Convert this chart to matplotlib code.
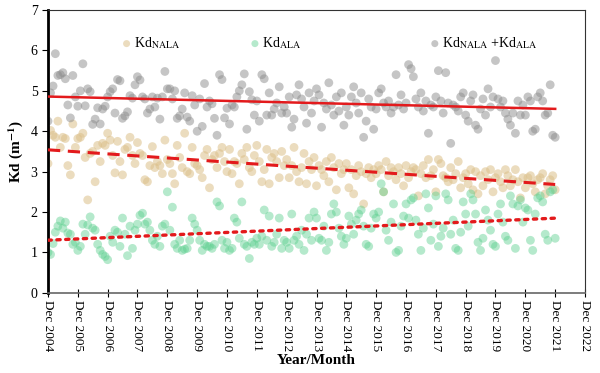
import pandas as pd
import matplotlib.pyplot as plt
import matplotlib.dates as mdates
from matplotlib.legend import Legend
import numpy as np

plt.rcParams['font.family'] = ['Liberation Serif', 'DejaVu Serif']
plt.rcParams['mathtext.fontset'] = 'stix'

# monthly values, Dec 2004 .. Dec 2021
kd_total = [
	4.25, 4.95, 5.12, 5.92, 5.38, 5.40, 5.45, 5.30, 4.65, 4.33, 5.38, 4.85,
	4.62, 5.00, 5.67, 4.63, 5.05, 4.98, 4.17, 4.30, 4.58, 4.18, 4.55, 4.62,
	4.85, 4.98, 5.05, 4.45, 5.28, 5.25, 4.32, 4.38, 4.48, 4.88, 4.82, 5.15,
	5.35, 5.27, 4.85, 4.80, 4.45, 4.55, 4.85, 4.60, 4.82, 4.30, 4.85, 5.48,
	5.05, 5.05, 4.80, 5.00, 4.32, 4.38, 4.55, 4.95, 4.35, 4.25, 4.88, 4.65,
	4.00, 4.80, 4.12, 5.18, 4.60, 4.75, 4.68, 4.32, 3.90, 5.40, 5.28, 4.33,
	4.57, 4.18, 4.65, 4.60, 4.85, 5.00, 5.15, 5.42, 4.05, 4.98, 4.78, 4.40,
	4.75, 4.25, 5.40, 5.30, 4.40, 4.95, 4.40, 4.55, 4.70, 5.10, 4.45, 4.60,
	4.45, 4.85, 4.10, 4.30, 4.90, 5.15, 4.80, 4.60, 4.20, 4.95, 4.45, 4.75,
	5.05, 4.90, 4.10, 4.70, 4.55, 5.20, 4.65, 4.40, 4.85, 4.50, 4.95, 4.15,
	4.60, 4.40, 4.85, 5.10, 4.70, 4.45, 4.95, 3.85, 4.25, 4.80, 4.60, 4.05,
	4.55, 4.95, 5.05, 4.70, 4.60, 4.75, 4.45, 4.60, 5.40, 4.65, 4.90, 4.55,
	4.70, 5.65, 5.55, 5.35, 4.80, 4.60, 4.95, 4.50, 4.75, 3.95, 4.65, 4.60,
	4.85, 5.50, 4.75, 4.45, 5.45, 4.70, 3.70, 4.65, 4.60, 4.50, 4.85, 4.95,
	4.40, 4.25, 4.75, 4.90, 4.15, 4.05, 4.55, 4.80, 4.40, 5.05, 4.60, 4.85,
	5.75, 4.80, 4.60, 4.75, 4.45, 4.30, 4.15, 4.45, 3.95, 4.75, 4.40, 4.65,
	4.40, 4.85, 4.75, 4.00, 4.05, 4.85, 4.95, 4.75, 4.40, 4.45, 5.15, 3.90,
	3.85,
]

kd_nala = [
	3.20, 4.02, 3.90, 3.85, 4.25, 3.60, 3.85, 3.82, 3.15, 2.92, 4.18, 3.60,
	3.82, 3.85, 3.95, 3.35, 2.30, 3.45, 3.50, 2.75, 3.65, 3.25, 3.70, 3.65,
	3.95, 3.78, 3.40, 2.97, 3.75, 3.25, 2.92, 3.55, 3.60, 3.85, 3.40, 3.20,
	3.72, 3.45, 3.40, 2.80, 2.75, 3.15, 3.62, 3.10, 3.25, 3.15, 2.95, 3.78,
	3.30, 3.20, 2.95, 2.70, 3.65, 3.35, 3.10, 3.95, 3.00, 2.95, 3.60, 3.20,
	3.15, 3.05, 2.85, 3.40, 3.55, 2.60, 3.30, 3.40, 3.10, 3.45, 3.60, 3.25,
	3.00, 3.55, 2.95, 3.25, 3.20, 2.70, 3.45, 3.30, 3.60, 3.10, 3.00, 3.40,
	3.65, 3.25, 2.75, 3.05, 3.55, 2.70, 3.35, 3.45, 3.25, 2.85, 3.50, 3.15,
	3.30, 2.85, 3.15, 3.60, 3.00, 2.75, 3.10, 3.45, 2.70, 3.25, 3.05, 3.35,
	2.65, 3.15, 3.05, 2.90, 3.25, 2.75, 3.35, 3.10, 2.55, 3.20, 2.95, 3.05,
	3.20, 2.60, 3.05, 2.45, 2.90, 3.15, 3.00, 2.20, 2.95, 3.10, 2.85, 3.05,
	2.95, 3.15, 3.05, 2.50, 3.25, 2.90, 3.10, 3.00, 2.80, 3.10, 2.95, 2.65,
	3.15, 2.85, 3.00, 3.10, 3.05, 2.40, 2.95, 3.15, 2.85, 3.30, 2.90, 3.05,
	2.50, 3.30, 3.20, 2.90, 2.85, 2.75, 3.10, 2.80, 2.95, 3.25, 2.60, 2.85,
	2.95, 2.70, 3.05, 2.55, 3.00, 2.45, 2.90, 2.65, 3.00, 2.80, 3.05, 2.50,
	2.85, 2.95, 2.75, 2.60, 3.05, 2.90, 2.65, 2.80, 3.05, 2.75, 2.35, 2.85,
	2.60, 2.85, 2.90, 2.70, 2.50, 2.80, 2.85, 2.95, 2.45, 2.65, 2.80, 2.90,
	2.55,
]

kd_ala = [
	1.00, 0.95, 1.22, 1.50, 1.65, 1.78, 1.60, 1.75, 1.48, 1.45, 1.20, 1.25,
	1.05, 1.15, 1.70, 1.45, 1.68, 1.88, 1.60, 1.55, 1.20, 1.05, 0.95, 0.90,
	0.82, 1.40, 1.25, 1.55, 1.50, 1.15, 1.85, 1.45, 0.92, 1.65, 1.10, 1.55,
	1.70, 1.92, 1.97, 1.70, 1.75, 1.55, 1.30, 1.20, 1.40, 1.15, 1.65, 1.70,
	2.50, 1.55, 2.12, 1.20, 1.10, 1.30, 1.05, 1.08, 1.10, 1.30, 1.85, 1.70,
	1.55, 1.30, 1.05, 1.20, 1.15, 1.15, 1.10, 1.20, 2.25, 2.15, 1.30, 1.10,
	1.25, 1.05, 1.10, 1.85, 1.75, 1.35, 2.25, 1.20, 1.15, 0.85, 1.25, 1.20,
	1.35, 1.20, 1.40, 2.05, 1.30, 1.90, 1.15, 1.25, 1.45, 1.85, 1.10, 1.30,
	1.25, 1.10, 1.95, 1.30, 1.40, 1.20, 1.55, 1.05, 1.45, 1.85, 1.30, 2.00,
	1.85, 1.35, 1.30, 1.65, 1.05, 1.25, 1.95, 2.20, 2.00, 1.60, 1.40, 1.20,
	1.35, 1.90, 1.70, 1.45, 1.80, 1.95, 2.05, 1.65, 1.20, 1.15, 1.60, 1.95,
	1.85, 2.00, 2.70, 2.50, 1.55, 1.30, 1.75, 2.20, 1.00, 1.05, 1.65, 1.90,
	2.20, 1.85, 2.30, 2.35, 1.80, 1.45, 1.05, 1.60, 2.45, 2.10, 1.30, 1.70,
	2.40, 1.15, 1.40, 1.60, 2.45, 2.30, 1.45, 1.80, 1.10, 1.05, 1.50, 2.25,
	1.95, 1.65, 2.45, 2.30, 1.95, 1.25, 1.05, 1.35, 2.05, 1.80, 1.55, 1.20,
	1.15, 1.95, 2.20, 1.75, 1.40, 1.30, 2.40, 2.20, 1.10, 2.15, 2.30, 1.75,
	2.10, 2.05, 1.30, 1.05, 1.95, 2.35, 2.40, 2.25, 1.45, 1.30, 2.50, 2.55,
	1.35,
]

years = list(range(2004, 2023))
tick_labels = ['Dec {}'.format(y) for y in years]

#----------------------------------------------------------------------

def add_trend(ax, t, y, style, lw):
	p = np.polyfit(t, y, 1)
	ax.plot(t, np.polyval(p, t), color='#e31a1c', linestyle=style, linewidth=lw,
		dash_capstyle='round' if style == ':' else 'butt', zorder=3)


def add_key(ax, handle, label, x):
	# one legend per entry so each key sits where the original put it
	leg = Legend(ax, [handle], [label], loc='center left', bbox_to_anchor=(x, 0.883),
		frameon=False, fontsize=10, handletextpad=0.1, handlelength=0.8,
		borderpad=0, borderaxespad=0, markerscale=0.8)
	ax.add_artist(leg)


def main():
	dates = pd.date_range('2004-12-01', periods=len(kd_total), freq='MS')
	t = mdates.date2num(dates)

	fig = plt.figure(figsize=(6, 3.73), dpi=100)
	ax = fig.add_axes([0.08, 0.215, 0.895, 0.758])

	h1 = ax.scatter(dates, kd_nala, s=40, color='#dcc08a', alpha=0.55, edgecolors='none', zorder=2)
	h2 = ax.scatter(dates, kd_ala, s=40, color='#5ccf8e', alpha=0.45, edgecolors='none', zorder=2)
	h3 = ax.scatter(dates, kd_total, s=40, color='#8c8c8c', alpha=0.5, edgecolors='none', zorder=2)

	add_trend(ax, t, kd_total, '-', 1.8)
	add_trend(ax, t, kd_nala, (0, (4, 2.5)), 2.2)
	add_trend(ax, t, kd_ala, ':', 2.4)

	ticks = pd.to_datetime(['{}-12-01'.format(y) for y in years])
	ax.set_xticks(ticks)
	ax.set_xticklabels(tick_labels, rotation=-90, fontsize=9.5)
	ax.set_xlim(ticks[0], ticks[-1])
	ax.set_ylim(0, 7)
	ax.set_yticks(range(8))
	ax.tick_params(axis='y', labelsize=10, direction='out', length=4)
	ax.tick_params(axis='x', direction='inout', length=6, pad=2)

	ax.spines['left'].set_linewidth(2)
	ax.spines['left'].set_color('black')
	ax.spines['bottom'].set_color('#666666')
	ax.spines['bottom'].set_linewidth(1.2)
	ax.spines['top'].set_color('#333333')
	ax.spines['right'].set_color('#333333')

	ax.set_ylabel('Kd (m$^{\\mathbf{-1}}$)', fontweight='bold', fontsize=11, labelpad=4)
	ax.set_xlabel('Year/Month', fontweight='bold', fontsize=11, labelpad=2)

	add_key(ax, h1, 'Kd$_{\\mathrm{NALA}}$', 0.136)
	add_key(ax, h2, 'Kd$_{\\mathrm{ALA}}$', 0.375)
	add_key(ax, h3, 'Kd$_{\\mathrm{NALA}}$ +Kd$_{\\mathrm{ALA}}$', 0.710)

	plt.savefig('out.png', dpi=100)

#----------------------------------------------------------------------

if __name__ == '__main__':
	main()
